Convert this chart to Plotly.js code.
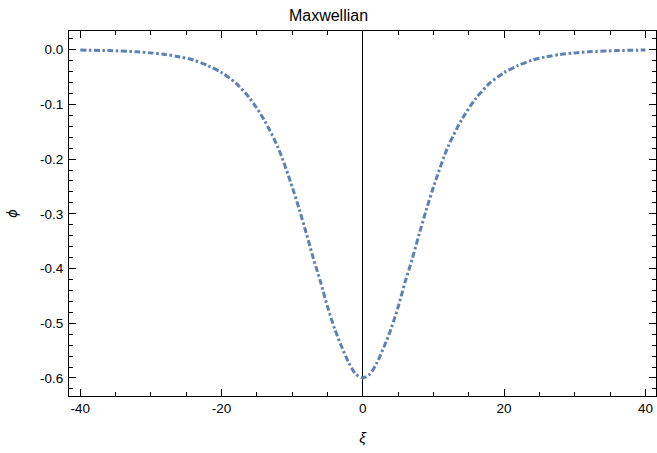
<!DOCTYPE html>
<html>
<head>
<meta charset="utf-8">
<script src="https://cdn.plot.ly/plotly-3.0.1.min.js"></script>
<style>html,body{margin:0;padding:0;background:#fff;}#chart{width:657px;height:453px;}</style>
</head>
<body>
<div id="chart"></div>
<script>
// Data
const xi = [-40, -36, -32, -30, -28, -26, -24, -22, -20, -18, -16, -14, -12, -10, -9, -8, -7, -6, -5, -4, -3, -2, -1, 0,
            1, 2, 3, 4, 5, 6, 7, 8, 9, 10, 12, 14, 16, 18, 20, 22, 24, 26, 28, 30, 32, 36, 40];
const phi = [-0.0008, -0.0018, -0.004, -0.006, -0.0088, -0.013, -0.019, -0.029, -0.042, -0.061, -0.089, -0.128, -0.179, -0.251, -0.292, -0.336, -0.382, -0.424, -0.470, -0.510, -0.543, -0.572, -0.593, -0.600,
             -0.593, -0.572, -0.543, -0.510, -0.470, -0.424, -0.382, -0.336, -0.292, -0.251, -0.179, -0.128, -0.089, -0.061, -0.042, -0.029, -0.019, -0.013, -0.0088, -0.006, -0.004, -0.0018, -0.0008];
const xTicks = [-40, -20, 0, 20, 40];
const yTicks = [0.0, -0.1, -0.2, -0.3, -0.4, -0.5, -0.6];
const yTickText = ['0.0', '-0.1', '-0.2', '-0.3', '-0.4', '-0.5', '-0.6'];
const titleText = 'Maxwellian';
const xLabel = 'ξ';
const yLabel = 'ϕ';

const font = 'Liberation Sans, Arial, sans-serif';
const trace = {
  x: xi, y: phi, type: 'scatter', mode: 'lines',
  line: {color: '#5E81B5', width: 3, dash: '6px,2.5px,2.5px,2.5px', shape: 'spline', smoothing: 0.8},
  hoverinfo: 'skip'
};
const axisCommon = {
  showgrid: false, showline: true, linecolor: '#000', linewidth: 1,
  ticks: 'inside', ticklen: 7, tickwidth: 1, tickcolor: '#000',
  mirror: 'allticks',
  tickfont: {family: font, size: 13.5, color: '#000'}
};
const layout = {
  width: 657, height: 453,
  margin: {l: 69, r: 1, t: 31, b: 57},
  paper_bgcolor: '#fff', plot_bgcolor: '#fff',
  showlegend: false,
  title: {text: titleText, font: {family: font, size: 16, color: '#000'}, x: 0.5, xanchor: 'center', y: 0.967, yanchor: 'middle'},
  xaxis: Object.assign({}, axisCommon, {
    range: [-41.6, 41.5], tickvals: xTicks, ticktext: xTicks.map(String),
    zeroline: true, zerolinecolor: '#000', zerolinewidth: 1,
    minor: {dtick: 5, tick0: 0, ticks: 'inside', ticklen: 4, tickcolor: '#000', tickwidth: 1},
    title: {text: '<i>' + xLabel + '</i>', font: {family: font, size: 15, color: '#000'}, standoff: 17}
  }),
  yaxis: Object.assign({}, axisCommon, {
    range: [-0.633, 0.034], tickvals: yTicks, ticktext: yTickText,
    zeroline: false, ticklabelstandoff: 2,
    minor: {dtick: 0.02, tick0: 0, ticks: 'inside', ticklen: 4, tickcolor: '#000', tickwidth: 1},
    title: {text: '<i>' + yLabel + '</i>', font: {family: font, size: 15, color: '#000'}, standoff: 18}
  })
};
Plotly.newPlot('chart', [trace], layout, {displayModeBar: false, staticPlot: true});
</script>
</body>
</html>
